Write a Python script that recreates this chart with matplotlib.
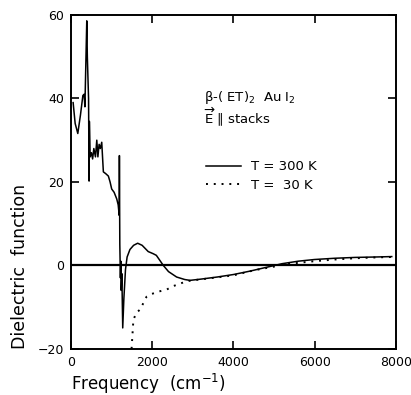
import matplotlib
matplotlib.use("Agg")
from matplotlib import pyplot as plt

# T = 300 K (solid)
freq_300 = [50, 100, 165, 230, 290, 320, 340, 386, 400, 430, 443, 450, 470, 500, 530,
            560, 600, 633, 660, 690, 720, 755, 780, 795, 850, 918, 960, 1000, 1060,
            1125, 1160, 1185, 1190, 1200, 1215, 1225, 1235, 1250, 1272, 1300, 1340,
            1380, 1450, 1540, 1640, 1750, 1900, 2020, 2100, 2200, 2270, 2400, 2600,
            2800, 2930, 3200, 3600, 4000, 4400, 4800, 5200, 5600, 6000, 6500, 7000,
            7500, 7900]
eps_300 = [39, 34, 31.6, 36, 40.7, 41, 38, 58.6, 50, 40, 20.2, 34.5, 26, 27, 25.5,
           28, 26, 30, 26, 29, 28, 29.5, 25, 22.4, 22, 21.4, 20, 18.3, 17.5,
           15.9, 14.5, 12, 26.3, 5, -3, 1, -6, -2, -15, -8, -1,
           2, 3.8, 4.8, 5.3, 4.8, 3.3, 2.8, 2.4, 1, 0, -1.5, -2.8,
           -3.4, -3.6, -3.3, -2.8, -2.2, -1.4, -0.5, 0.4, 1.0, 1.4, 1.7, 1.9,
           2.0, 2.1]

# T = 30 K (dotted)
freq_30 = [1490, 1535, 1615, 1700, 1860, 1945, 2150, 2355, 2510, 2850, 3000, 3500,
           4000, 4500, 5000, 5100, 5500, 6000, 6500, 7000, 7500, 7900]
eps_30 = [-20, -13, -11.3, -10.6, -7.5, -7, -6.3, -5.8, -5, -3.8, -3.6, -3.0,
          -2.4, -1.2, -0.3, 0, 0.5, 1.0, 1.4, 1.7, 1.9, 2.0]

xticks = [0, 2000, 4000, 6000, 8000]
yticks = [-20, 0, 20, 40, 60]

fig = plt.figure(figsize=(4.11, 3.95), dpi=100)
ax = fig.add_axes([0.173, 0.117, 0.79, 0.845])

ax.axhline(0, color="black", lw=1.6, zorder=1)
ax.plot(freq_300, eps_300, color="black", lw=1.1, label="T = 300 K")
ax.plot(freq_30, eps_30, color="black", lw=1.4, linestyle=(0, (1, 3)),
        label="T =  30 K")

ax.set_xlim(0, 8000)
ax.set_ylim(-20, 60)
ax.set_xticks(xticks)
ax.set_yticks(yticks)
ax.tick_params(direction="in", length=6, width=1.2, labelsize=9,
               top=True, right=True, pad=5)
for s in ax.spines.values():
    s.set_linewidth(1.4)

ax.set_xlabel("Frequency  (cm$^{-1}$)", fontsize=12, labelpad=2, loc="left")
ax.set_ylabel("Dielectric  function", fontsize=12.5, labelpad=6, loc="bottom")

ax.text(0.41, 0.754, "β-( ET)$_2$  Au I$_2$", transform=ax.transAxes,
        fontsize=9.5, va="center")
ax.text(0.41, 0.695, r"$\overrightarrow{\mathrm{E}}$ ∥ stacks",
        transform=ax.transAxes, fontsize=9.5, va="center")

ax.legend(loc="upper left", bbox_to_anchor=(0.38, 0.6), frameon=False,
          fontsize=9.5, handlelength=2.6, labelspacing=0.4)

fig.savefig("out.png", dpi=100)
